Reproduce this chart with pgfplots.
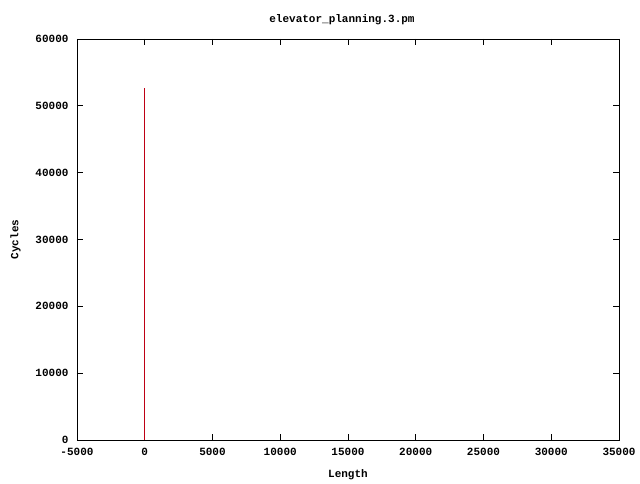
\documentclass[border=0pt]{standalone}
\usepackage{pgfplots}
\pgfplotsset{compat=1.18}
\usepackage{fontspec}
\setmainfont{Liberation Mono}
\setmonofont{Liberation Mono}
\begin{document}
\begin{tikzpicture}[x=1pt,y=1pt]
\begin{axis}[
  scale only axis,
  width=542pt, height=401pt,
  xmin=-5000, xmax=35000, ymin=0, ymax=60000,
  xtick={-5000,0,5000,10000,15000,20000,25000,30000,35000},
  xticklabels={-5000,0,5000,10000,15000,20000,25000,30000,35000},
  ytick={0,10000,20000,30000,40000,50000,60000},
  yticklabels={0,10000,20000,30000,40000,50000,60000},
  scaled ticks=false,
  tick align=inside,
  major tick length=6pt,
  xtick pos=both, ytick pos=both,
  ticklabel style={font=\fontsize{11}{12}\selectfont\bfseries},
  xticklabel style={yshift=-5pt},
  yticklabel style={xshift=-5pt},
  label style={font=\fontsize{11}{12}\selectfont\bfseries},
  title style={font=\fontsize{11}{12}\selectfont\bfseries, yshift=5pt, xshift=-6pt},
  title={elevator\_planning.3.pm},
  xlabel={Length},
  ylabel={Cycles},
  xlabel style={yshift=-7pt},
  ylabel style={yshift=8pt},
  axis line style={black, line width=0.8pt},
  every tick/.style={black, line width=0.8pt},
]
\addplot[ycomb, color={rgb,255:red,190;green,0;blue,20}, line width=0.9pt, mark=none] coordinates {(-50,52600)};
\coordinate (sw) at (rel axis cs:0,0);
\coordinate (ne) at (rel axis cs:1,1);
\end{axis}
\path[use as bounding box] ([xshift=-77pt,yshift=-40pt]sw) rectangle ([xshift=21pt,yshift=39pt]ne);
\end{tikzpicture}
\end{document}
